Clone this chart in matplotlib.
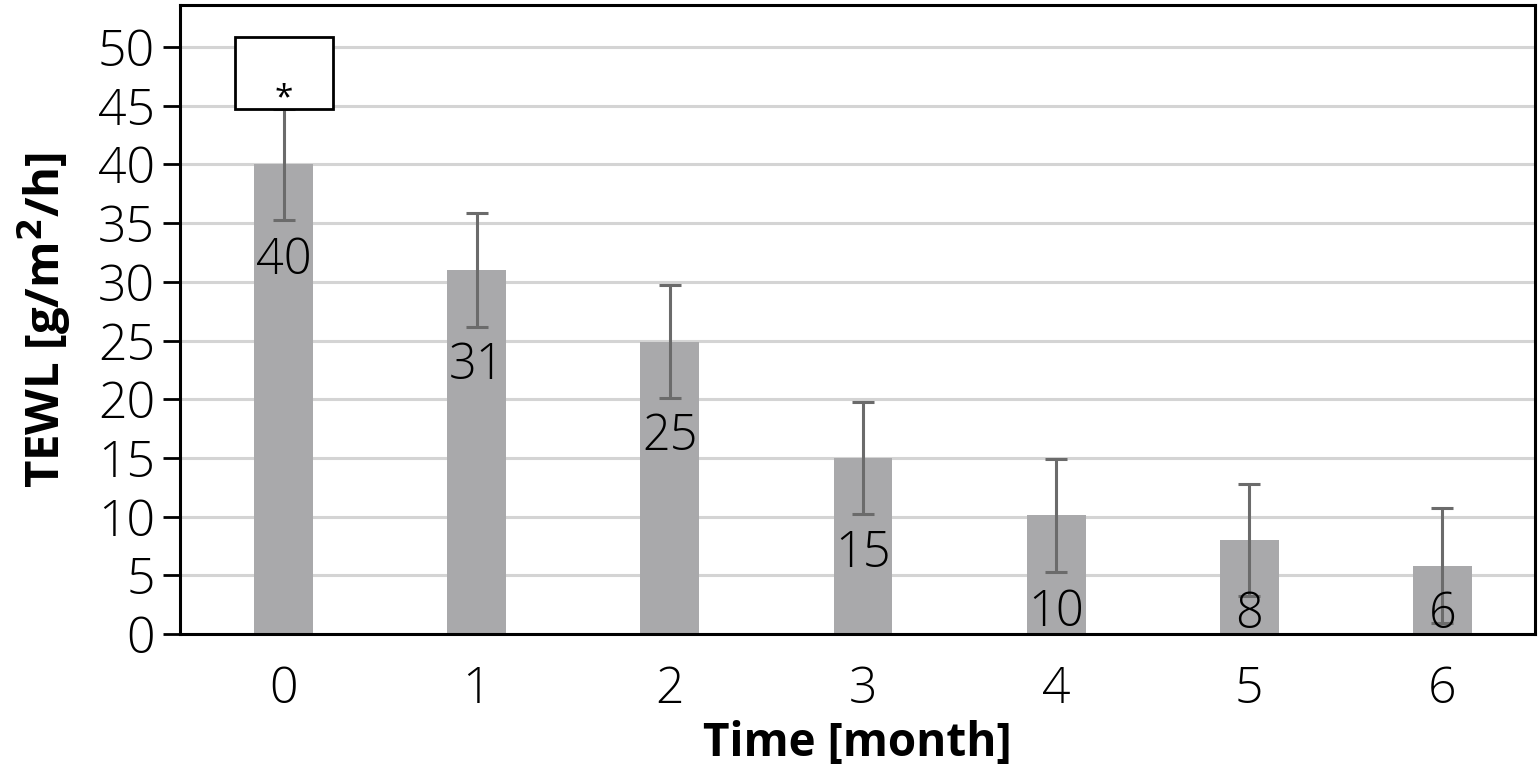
import numpy as np
import matplotlib.pyplot as plt
from matplotlib.patches import Rectangle

months = [0, 1, 2, 3, 4, 5, 6]
tewl = [40, 31, 25, 15, 10, 8, 6]
tewl_shown = [40.0, 31.0, 24.9, 15.0, 10.1, 8.0, 5.8]
errs = [4.7, 4.85, 4.8, 4.8, 4.8, 4.8, 4.9]
yticks = [0, 5, 10, 15, 20, 25, 30, 35, 40, 45, 50]

plt.rcParams['font.family'] = ['Open Sans', 'DejaVu Sans']

fig = plt.figure(figsize=(15.4, 7.66), dpi=100)
ax = fig.add_axes([0.1169, 0.1723, 0.8799, 0.8215])

x = np.array(months)
ax.bar(x, tewl_shown, width=0.305, color="#a9a9ab", zorder=2)
ax.errorbar(x, tewl_shown, yerr=errs, fmt="none", ecolor="#6b6b6b",
            elinewidth=2.2, capsize=8, capthick=2.2, zorder=3)

# value labels, inside the bar near the top
for xi, v in zip(x, tewl):
    ax.text(xi, max(v - 8.2, 1.6), str(v), ha="center", va="center",
            fontsize=35, fontweight="light", color="black", zorder=5)

# significance box with asterisk on the first bar
box = Rectangle((-0.251, 44.74), 0.507, 6.1, facecolor="white",
                edgecolor="black", linewidth=2, zorder=6)
ax.add_patch(box)
ax.text(0, 45.6, "*", ha="center", va="center", fontsize=24, zorder=7)

ax.set_xlim(-0.536, 6.48)
ax.set_ylim(0, 53.6)
ax.set_yticks(yticks)
ax.set_xticks(months)
ax.tick_params(axis="y", labelsize=36, length=12, width=2, direction="out", pad=6)
ax.tick_params(axis="x", labelsize=36, length=0, pad=22)
for lab in ax.get_xticklabels() + ax.get_yticklabels():
    lab.set_fontweight("light")
ax.yaxis.grid(True, color="#d4d4d4", linewidth=2.2, zorder=0)
ax.set_axisbelow(True)
for s in ax.spines.values():
    s.set_linewidth(2.2)
    s.set_color("black")

ax.set_ylabel("TEWL [g/m$^\\mathbf{2}$/h]", fontsize=34, fontweight="bold", labelpad=18)
ax.set_xlabel("Time [month]", fontsize=33, fontweight="bold", labelpad=4)

fig.savefig("out.png", dpi=100)
